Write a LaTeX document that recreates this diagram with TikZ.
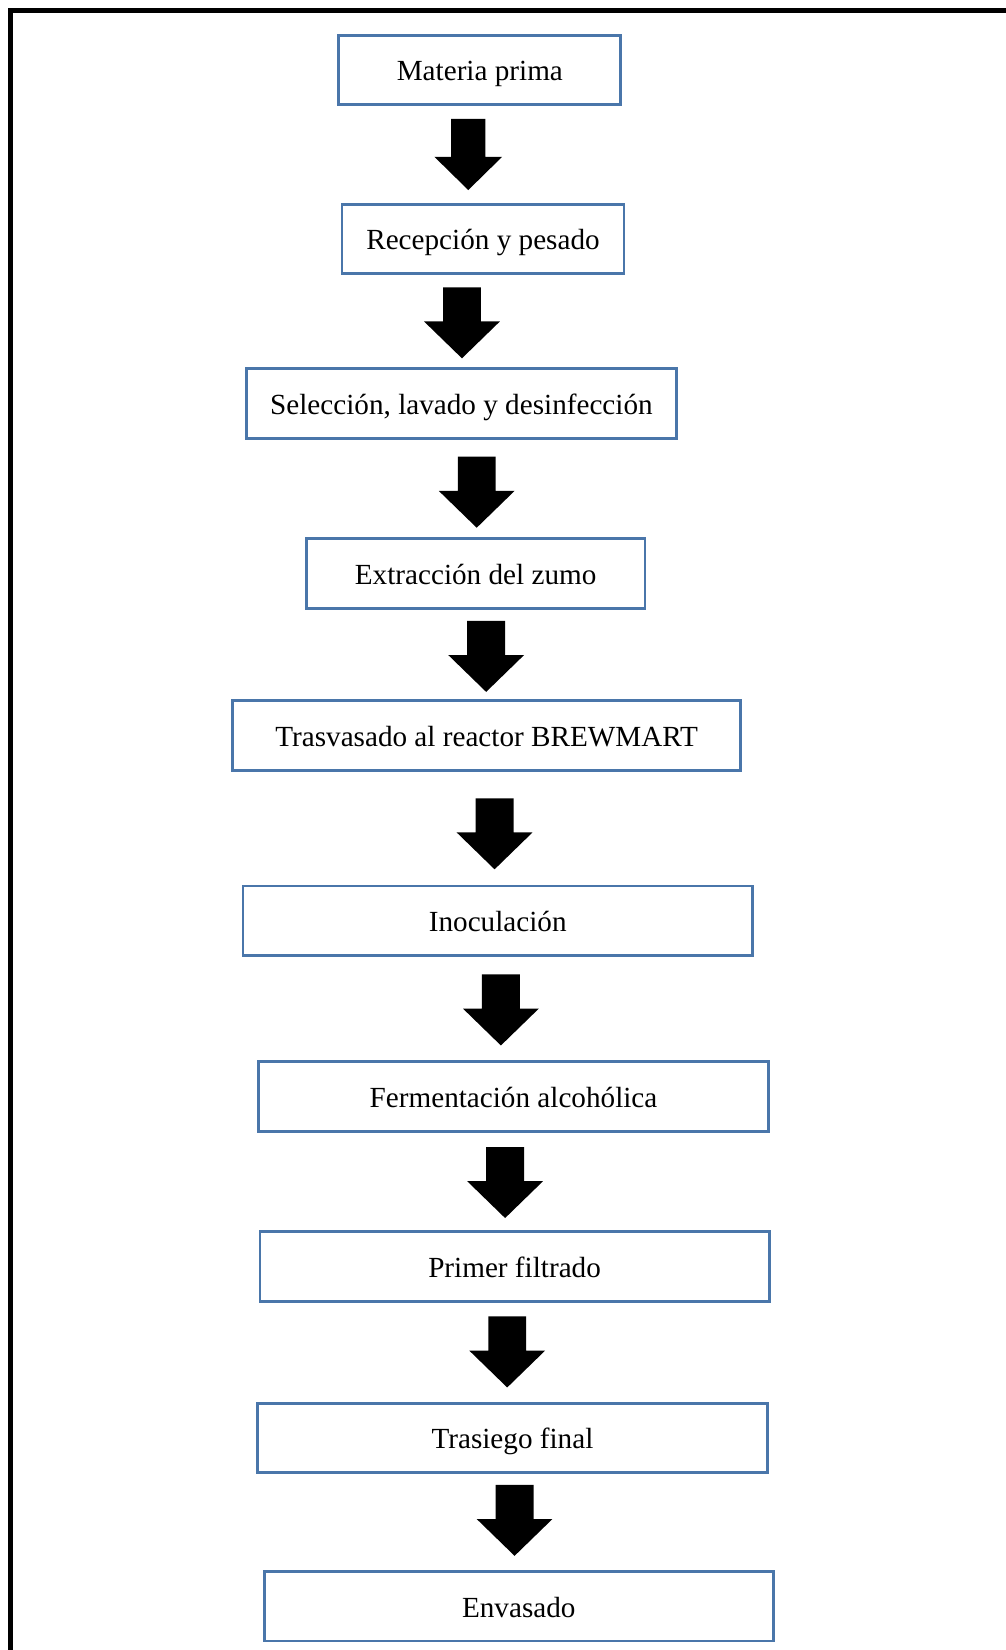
\documentclass[tikz,border=0pt]{standalone}
\usepackage{fontspec}
\setmainfont{Liberation Serif}
\definecolor{boxblue}{HTML}{4A76AA}
\begin{document}
\begin{tikzpicture}[x=0.75pt,y=-0.75pt,
  stepbox/.style={draw=boxblue,line width=2pt,rectangle,minimum height=66*0.75pt,inner sep=0pt,
     text height=15.6pt,text depth=0pt,
     font=\fontsize{20.8}{25}\selectfont,text=black},
  blockarrow/.pic={\fill[black] (-18,0) -- (18,0) -- (18,32.5) -- (36,32.5) -- (0,67.5) -- (-36,32.5) -- (-18,32.5) -- cycle;},
  smallarrow/.pic={\fill[black] (-16.2,0) -- (16.2,0) -- (16.2,36) -- (32.2,36) -- (0,67.6) -- (-32.2,36) -- (-16.2,36) -- cycle;}]
\useasboundingbox (0,0) rectangle (956,1568);
% frame (top and left edges)
\draw[line width=3.8pt] (10,1568) -- (10,10) -- (956,10);
% boxes
\node[stepbox,minimum width=268*0.75pt] (b1) at (456,66.5) {Materia prima};
\node[stepbox,minimum width=268*0.75pt] (b2) at (459,227) {Recepción y pesado};
\node[stepbox,minimum width=409*0.75pt] (b3) at (438.5,383.5) {Selección, lavado y desinfección};
\node[stepbox,minimum width=322*0.75pt] (b4) at (452,545) {Extracción del zumo};
\node[stepbox,minimum width=483*0.75pt] (b5) at (462.5,699) {Trasvasado al reactor BREWMART};
\node[stepbox,minimum width=484*0.75pt] (b6) at (473,875) {Inoculación};
\node[stepbox,minimum width=484*0.75pt] (b7) at (488,1042) {Fermentación alcohólica};
\node[stepbox,minimum width=484*0.75pt] (b8) at (489,1203.5) {Primer filtrado};
\node[stepbox,minimum width=484*0.75pt] (b9) at (487,1366.5) {Trasiego final};
\node[stepbox,minimum width=484*0.75pt] (b10) at (493,1526.5) {Envasado};
% block arrows
\coordinate (a1) at (445,113);
\coordinate (a2) at (439,273);
\coordinate (a3) at (453,434);
\coordinate (a4) at (462,590);
\coordinate (a5) at (470,758.6);
\coordinate (a6) at (476,926);
\coordinate (a7) at (480,1090);
\coordinate (a8) at (482,1251);
\coordinate (a9) at (489,1411);
\pic at (a1) {smallarrow};
\foreach \a in {a2,a3,a4,a5,a6,a7,a8,a9} {\pic at (\a) {blockarrow};}
\end{tikzpicture}
\end{document}
